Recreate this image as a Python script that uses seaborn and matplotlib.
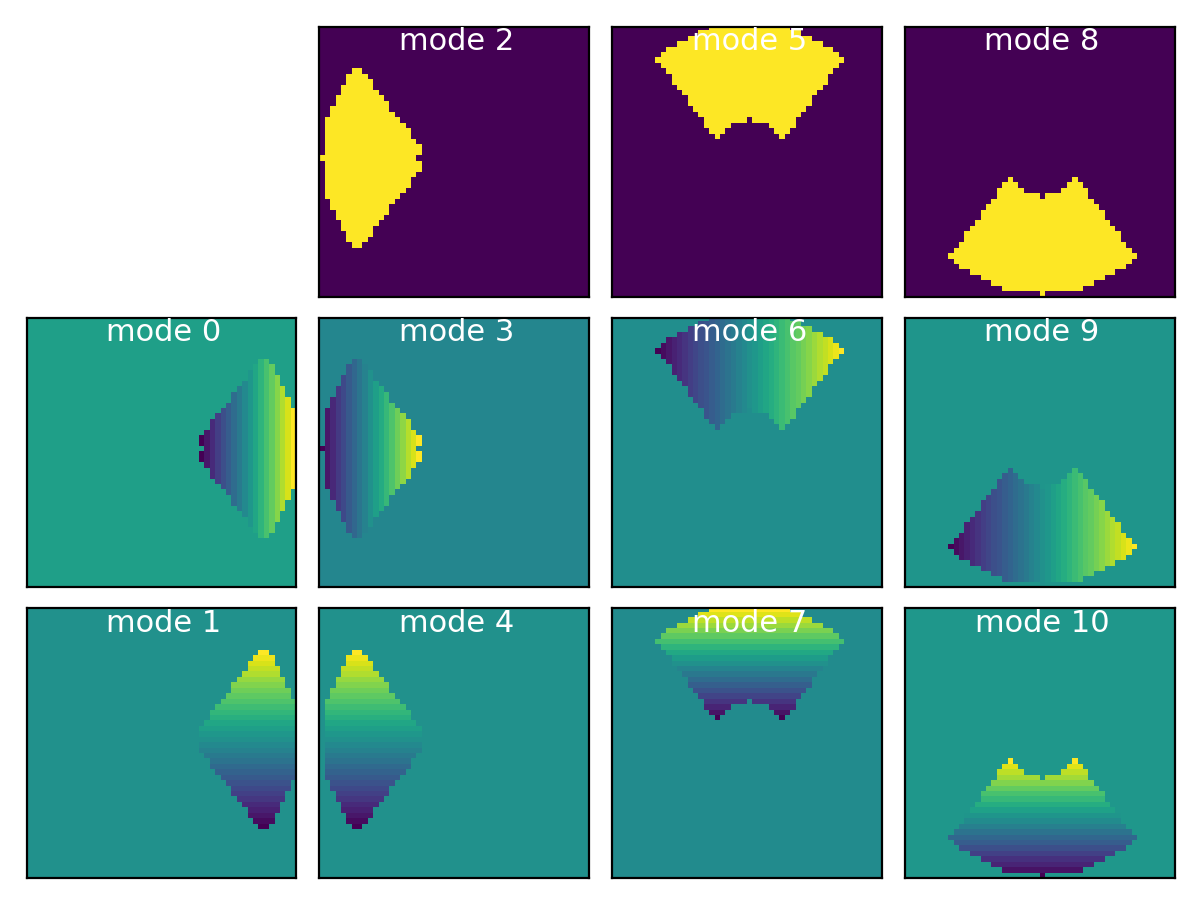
import numpy as np
import matplotlib
matplotlib.use('Agg')
import matplotlib.pyplot as plt
import seaborn as sns

# outline of the lobe at the left, per row: first column, last column + 1
left_rows = list(range(7, 40))
left_start = [6, 5, 5, 4, 4, 3, 3, 2, 2, 1, 1, 1, 1, 1, 1, 1, 0,
              1, 1, 1, 1, 1, 1, 1, 2, 2, 3, 3, 4, 4, 5, 5, 6]
left_stop = [8, 9, 10, 10, 11, 12, 13, 13, 14, 15, 16, 17, 17, 18, 19, 19, 18,
             19, 19, 18, 17, 17, 16, 15, 14, 13, 13, 12, 11, 10, 10, 9, 8]

# outline of the lobe at the top, per row, with the gap between the two ears
top_rows = list(range(-2, 20))
top_start = [25, 18, 16, 14, 12, 10, 9, 8, 9, 10, 11, 11, 12, 13, 14, 14, 15, 16, 17, 17, 18, 19]
top_stop = [26, 33, 35, 37, 39, 41, 42, 43, 42, 41, 40, 40, 39, 38, 37, 37, 36, 35, 34, 34, 33, 32]
top_gap_start = [0, 0, 0, 0, 0, 0, 0, 0, 0, 0, 0, 0, 0, 0, 0, 0, 0, 0, 25, 22, 21, 20]
top_gap_stop = [0, 0, 0, 0, 0, 0, 0, 0, 0, 0, 0, 0, 0, 0, 0, 0, 0, 0, 26, 29, 30, 31]

# background level of each mode on the colour scale
background = {0: 0.56, 1: 0.50, 2: 0.0, 3: 0.46, 4: 0.50, 5: 0.0,
              6: 0.49, 7: 0.48, 8: 0.0, 9: 0.52, 10: 0.53}

mode0_levels = [0.0, 0.06, 0.12, 0.18, 0.24, 0.29, 0.35, 0.41, 0.47,
                0.53, 0.59, 0.65, 0.71, 0.76, 0.82, 0.88, 0.94, 1.0]
mode3_levels = [0.0, 0.06, 0.11, 0.17, 0.22, 0.28, 0.33, 0.39, 0.44, 0.5,
                0.56, 0.61, 0.67, 0.72, 0.78, 0.83, 0.89, 0.94, 1.0]
mode1_levels = [1.0, 0.97, 0.94, 0.91, 0.88, 0.84, 0.81, 0.78, 0.75, 0.72, 0.69,
                0.66, 0.63, 0.59, 0.56, 0.53, 0.5, 0.47, 0.44, 0.41, 0.38, 0.34,
                0.31, 0.28, 0.25, 0.22, 0.19, 0.16, 0.12, 0.09, 0.06, 0.03, 0.0]
mode4_levels = mode1_levels
mode6_levels = [0.0, 0.03, 0.06, 0.09, 0.12, 0.15, 0.18, 0.21, 0.24, 0.26, 0.29, 0.32,
                0.35, 0.38, 0.41, 0.44, 0.47, 0.5, 0.53, 0.56, 0.59, 0.62, 0.65, 0.68,
                0.71, 0.74, 0.76, 0.79, 0.82, 0.85, 0.88, 0.91, 0.94, 0.97, 1.0]
mode9_levels = mode6_levels
mode7_levels = [1.0, 0.95, 0.9, 0.85, 0.8, 0.75, 0.7, 0.65, 0.6, 0.55, 0.5,
                0.45, 0.4, 0.35, 0.3, 0.25, 0.2, 0.15, 0.1, 0.05, 0.0]
mode10_levels = [1.0, 0.95, 0.9, 0.86, 0.81, 0.76, 0.71, 0.67, 0.62, 0.57, 0.52,
                 0.48, 0.43, 0.38, 0.33, 0.29, 0.24, 0.19, 0.14, 0.1, 0.05, 0.0]

N = 50


def left_mask():
    mask = np.zeros((N, N), dtype=bool)
    for p, a, b in zip(left_rows, left_start, left_stop):
        mask[p + 1, a:b] = True
    return mask


def top_mask(flip=False):
    mask = np.zeros((N, N), dtype=bool)
    for p, a, b, g0, g1 in zip(top_rows, top_start, top_stop, top_gap_start, top_gap_stop):
        row = 46 - p if flip else p
        if row < -1:
            continue
        mask[row + 1, a:b] = True
        mask[row + 1, g0:g1] = False
    return mask


def fill(mode, mask, levels=None, axis=None):
    grid = np.full((N, N), background[mode])
    if levels is None:
        grid[mask] = 1.0
        return grid
    # levels run over the rows or columns that the mask touches
    used = np.where(mask.any(axis=1 - axis))[0]
    for i, value in zip(used, levels):
        if axis == 0:
            grid[i, mask[i]] = value
        else:
            grid[mask[:, i], i] = value
    return grid


left = left_mask()
right = np.zeros((N, N), dtype=bool)
for p, a, b in zip(left_rows, left_start, left_stop):
    right[p + 1, 51 - b:min(51 - a, N)] = True
top = top_mask()
bottom = top_mask(flip=True)

panels = {
    0: fill(0, right, mode0_levels, 1),
    1: fill(1, right, mode1_levels, 0),
    2: fill(2, left),
    3: fill(3, left, mode3_levels, 1),
    4: fill(4, left, mode4_levels, 0),
    5: fill(5, top),
    6: fill(6, top, mode6_levels, 1),
    7: fill(7, top, mode7_levels, 0),
    8: fill(8, bottom),
    9: fill(9, bottom, mode9_levels, 1),
    10: fill(10, bottom, mode10_levels, 0),
}

fig, axes = plt.subplots(3, 4, figsize=(6, 4.51), dpi=200)
fig.subplots_adjust(left=26.5 / 1200, right=1174.7 / 1200, top=1 - 27 / 902,
                    bottom=1 - 878 / 902, wspace=0.086, hspace=0.0785)
axes[0, 0].axis('off')

for mode, grid in panels.items():
    col = (mode + 1) // 3
    row = (mode + 1) % 3
    ax = axes[row, col]
    sns.heatmap(grid, ax=ax, cmap='viridis', vmin=0, vmax=1, cbar=False,
                xticklabels=False, yticklabels=False, square=False)
    ax.set_ylim(N, 0.4)
    for spine in ax.spines.values():
        spine.set_visible(True)
        spine.set_linewidth(0.8)
        spine.set_color('black')
    ax.text(0.508, 0.945, 'mode %d' % mode, color='white', fontsize=11,
            ha='center', va='center', transform=ax.transAxes)

plt.savefig('out.png', dpi=200)
